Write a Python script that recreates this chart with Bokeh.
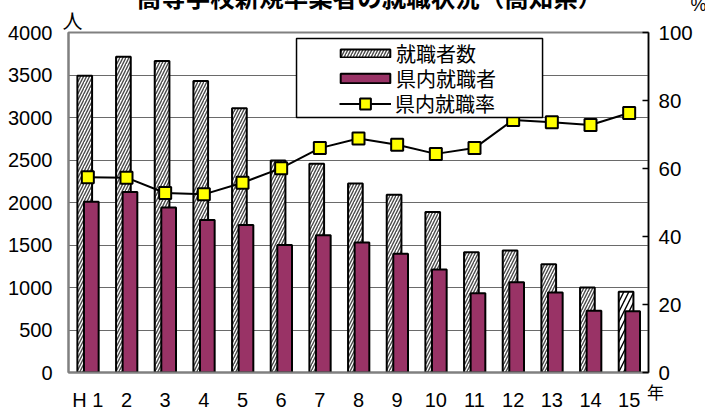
from bokeh.plotting import figure
from bokeh.models import (Range1d, LinearAxis, FixedTicker, Legend, LegendItem,
                          Label, BoxAnnotation, ColumnDataSource)
from bokeh.transform import dodge
from bokeh.embed import file_html
from bokeh.resources import INLINE

# ---- data ----
years = ["H 1", "2", "3", "4", "5", "6", "7", "8", "9", "10", "11", "12", "13", "14", "15"]
employed = [3490, 3715, 3665, 3430, 3110, 2495, 2455, 2225, 2090, 1888, 1415, 1435, 1275, 1000, 950]
in_pref = [2010, 2125, 1940, 1795, 1735, 1500, 1615, 1530, 1396, 1212, 933, 1062, 941, 726, 722]
rate = [57.4, 57.3, 52.8, 52.4, 55.8, 60.1, 66.0, 68.8, 67.0, 64.3, 66.0, 74.3, 73.6, 72.8, 76.3]
left_ticks = [0, 500, 1000, 1500, 2000, 2500, 3000, 3500, 4000]
right_ticks = [0, 20, 40, 60, 80, 100]
title_text = "高等学校新規卒業者の就職状況（高知県）"
labels = ["就職者数", "県内就職者", "県内就職率"]

idx = list(range(1, len(years) + 1))
hatch_scale = [6] * (len(years) - 1) + [10]
hatch_color = ["#4a4a4a"] * (len(years) - 1) + ["black"]

src = ColumnDataSource(dict(x=idx, employed=employed, in_pref=in_pref, rate=rate,
                            hs=hatch_scale, hc=hatch_color))

JP = "Noto Sans CJK JP"
NUM = "Liberation Sans"

# frame sits at page x 68..648, y 32..372; the canvas is larger and shifted up
TOP, BOTTOM, LEFT, RIGHT = 100, 80, 68, 57
p = figure(width=LEFT + 580 + RIGHT, height=TOP + 340 + BOTTOM,
           x_range=Range1d(0.5, 15.5), y_range=Range1d(0, 4000),
           output_backend="svg", toolbar_location=None, title=None,
           min_border_left=LEFT, min_border_right=RIGHT, min_border_top=TOP,
           min_border_bottom=BOTTOM,
           background_fill_color="white", border_fill_color="white")
p.margin = (32 - TOP, 0, 407 - (32 - TOP) - (TOP + 340 + BOTTOM), 0)
p.extra_y_ranges = {"pct": Range1d(0, 100)}

p.outline_line_color = "#808080"
p.outline_line_width = 2

# grid
p.xgrid.visible = False
p.ygrid.ticker = FixedTicker(ticks=left_ticks)
p.ygrid.grid_line_color = "#6a6a6a"
p.ygrid.grid_line_width = 1

# left axis
ya = p.yaxis[0]
ya.ticker = FixedTicker(ticks=left_ticks)
ya.major_tick_in = 0
ya.major_tick_out = 0
ya.major_tick_line_color = None
ya.minor_tick_line_color = None
ya.axis_line_color = "#808080"
ya.axis_line_width = 2
ya.major_label_text_font = NUM
ya.major_label_text_font_size = "20px"
ya.major_label_text_color = "black"
ya.major_label_standoff = 16

# bottom axis
xa = p.xaxis[0]
xa.ticker = FixedTicker(ticks=idx)
xa.major_label_overrides = {i: y for i, y in zip(idx, years)}
xa.major_tick_in = 0
xa.major_tick_out = 0
xa.major_tick_line_color = None
xa.minor_tick_line_color = None
xa.axis_line_color = "#808080"
xa.axis_line_width = 2
xa.major_label_text_font = NUM
xa.major_label_text_font_size = "20px"
xa.major_label_text_color = "black"
xa.major_label_standoff = 16

# right axis
ra = LinearAxis(y_range_name="pct", ticker=FixedTicker(ticks=right_ticks))
ra.major_tick_in = 6
ra.major_tick_out = 0
ra.major_tick_line_color = "black"
ra.major_tick_line_width = 1.5
ra.minor_tick_line_color = None
ra.axis_line_color = "black"
ra.axis_line_width = 1.5
ra.major_label_text_font = NUM
ra.major_label_text_font_size = "20.5px"
ra.major_label_text_color = "black"
ra.major_label_standoff = 10
p.add_layout(ra, "right")

# bars
r_emp = p.vbar(x=dodge("x", -0.08, range=p.x_range), top="employed", width=0.38, source=src,
               fill_color="white", line_color="black", line_width=2,
               hatch_pattern="/", hatch_color="hc", hatch_scale="hs", hatch_weight=1.4)
r_in = p.vbar(x=dodge("x", 0.09, range=p.x_range), top="in_pref", width=0.38, source=src,
              fill_color="#993366", line_color="black", line_width=2)

# rate line
r_line = p.line(x="x", y="rate", y_range_name="pct", source=src, line_color="black", line_width=2)
r_pts = p.scatter(x="x", y="rate", y_range_name="pct", source=src, marker="square", size=12,
                  fill_color="#FFFF00", line_color="black", line_width=2)

# legend frame
box = BoxAnnotation(left=6.397, right=12.76, top=3929, bottom=3000,
                    fill_color="white", fill_alpha=1, line_color="black", line_width=1.5,
                    line_alpha=1)
p.add_layout(box)

def mk_leg(item, loc, gw, gh, lh, standoff):
    return Legend(items=[item], location=loc, orientation="vertical",
                  glyph_width=gw, glyph_height=gh, label_height=lh,
                  label_text_font=JP, label_text_font_size="20px", label_text_color="black",
                  label_standoff=standoff, padding=0, margin=0, spacing=0,
                  border_line_alpha=0, background_fill_alpha=0)

leg1 = mk_leg(LegendItem(label=labels[0], renderers=[r_emp]), (266, 304.5), 62, 10, 26, 0)
leg2 = mk_leg(LegendItem(label=labels[1], renderers=[r_in]), (266, 279.5), 62, 12, 26, 0)
leg3 = mk_leg(LegendItem(label=labels[2], renderers=[r_line, r_pts]), (271, 254.5), 52, 27, 27, 4)
for lg in (leg1, leg2, leg3):
    p.add_layout(lg)

# texts around the frame (in side panels so that they are not clipped to the frame)
p.add_layout(Label(x=8.284, y=4423, text=title_text, text_font=JP, text_font_size="24.5px",
                   text_font_style="bold", text_align="center", text_baseline="alphabetic",
                   text_color="black"), "above")
p.add_layout(Label(x=0.603, y=4141, text="人", text_font=JP, text_font_size="20px",
                   text_align="center", text_baseline="middle", text_color="black"), "above")
p.add_layout(Label(x=16.793, y=4318, text="%", text_font=NUM, text_font_size="18px",
                   text_align="center", text_baseline="middle", text_color="black"), "above")
p.add_layout(Label(x=15.681, y=-218, text="年", text_font=JP, text_font_size="17px",
                   text_align="center", text_baseline="middle", text_color="black"), "below")

open("out.html", "w").write(file_html(p, INLINE))
